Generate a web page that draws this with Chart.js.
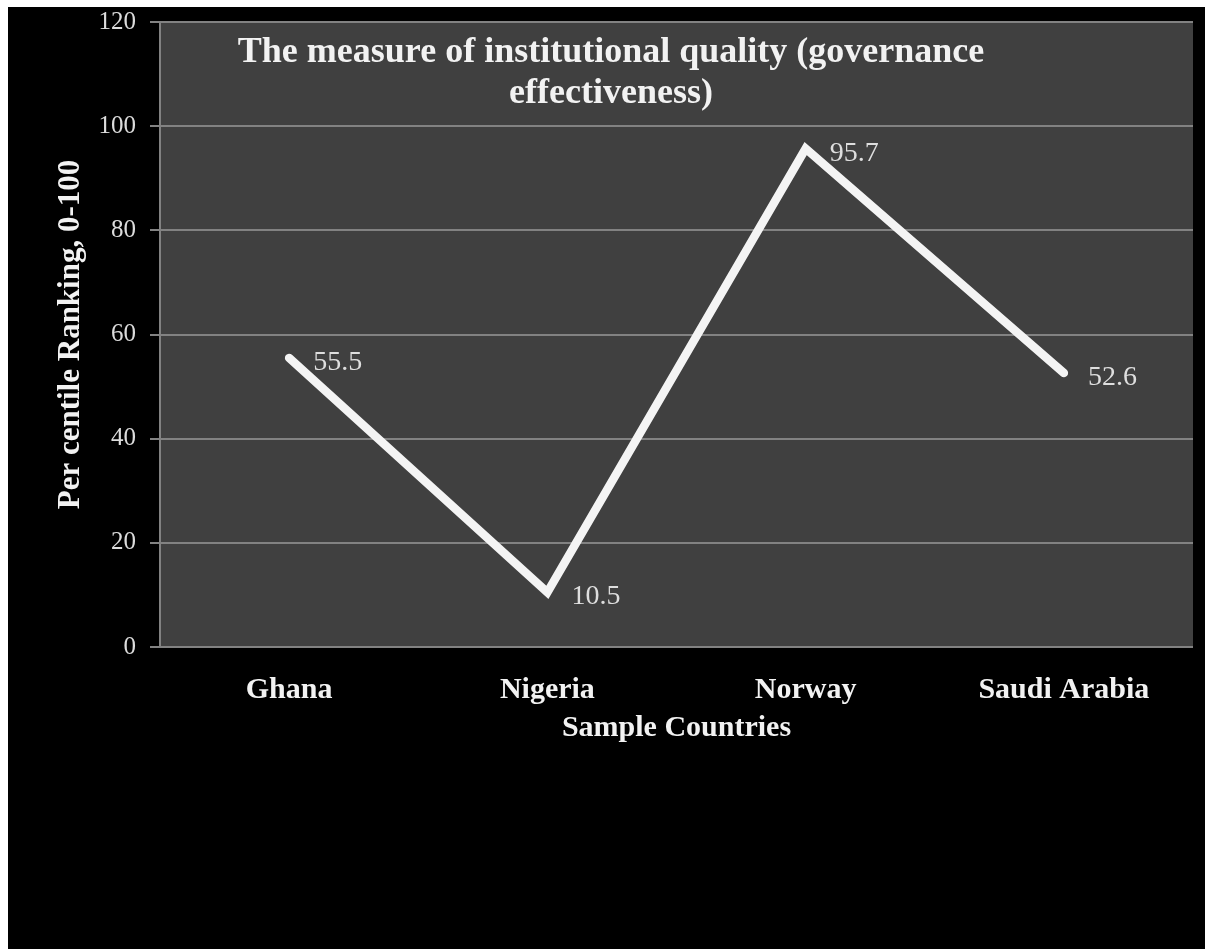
<!DOCTYPE html>
<html>
<head>
<meta charset="utf-8">
<title>Governance effectiveness</title>
<script src="https://cdn.jsdelivr.net/npm/chart.js@4.4.1/dist/chart.umd.min.js"></script>
<style>
  html, body { margin: 0; padding: 0; background: #ffffff; }
  #frame { position: absolute; left: 8px; top: 7px; width: 1197px; height: 942px; background: #000000; }
  #chart { display: block; }
</style>
</head>
<body>
<div id="frame"><canvas id="chart" width="1197" height="942"></canvas></div>
<script>
// Sample countries and their governance-effectiveness percentile rank
const countries = ['Ghana', 'Nigeria', 'Norway', 'Saudi Arabia'];
const governance = [55.5, 10.5, 95.7, 52.6];

// Value axis range
const yMin = 0;
const yMax = 120;
const yStep = 20;

const titleLines = ['The measure of institutional quality (governance', 'effectiveness)'];
const xAxisTitle = 'Sample Countries';
const yAxisTitle = 'Per centile Ranking, 0-100';

const SERIF = "'Liberation Serif', 'Times New Roman', serif";

// Dark plot background behind the grid
const plotBackground = {
  id: 'plotBackground',
  beforeDraw(chart) {
    const { ctx, chartArea: a } = chart;
    ctx.save();
    ctx.fillStyle = '#000000';
    ctx.fillRect(0, 0, chart.width, chart.height);
    ctx.fillStyle = '#404040';
    ctx.fillRect(a.left, a.top, a.right - a.left, a.bottom - a.top);
    ctx.restore();
  }
};

// Two-line heading drawn inside the plot area
const innerTitle = {
  id: 'innerTitle',
  afterDatasetsDraw(chart) {
    const { ctx, chartArea: a } = chart;
    ctx.save();
    ctx.font = 'bold 36px ' + SERIF;
    ctx.fillStyle = '#f2f2f2';
    ctx.textAlign = 'center';
    ctx.textBaseline = 'alphabetic';
    const cx = a.left + 451;
    titleLines.forEach((line, i) => ctx.fillText(line, cx, a.top + 40 + i * 41));
    ctx.restore();
  }
};

// Value labels to the right of each point
const valueLabels = {
  id: 'valueLabels',
  afterDatasetsDraw(chart) {
    const { ctx } = chart;
    const meta = chart.getDatasetMeta(0);
    ctx.save();
    ctx.font = '28px ' + SERIF;
    ctx.fillStyle = '#dedede';
    ctx.textAlign = 'left';
    ctx.textBaseline = 'alphabetic';
    meta.data.forEach((pt, i) => {
      ctx.fillText(governance[i].toFixed(1), pt.x + 24, pt.y + 12);
    });
    ctx.restore();
  }
};

new Chart(document.getElementById('chart'), {
  type: 'line',
  data: {
    labels: countries,
    datasets: [{
      data: governance,
      borderColor: '#f4f4f4',
      borderWidth: 8.5,
      borderCapStyle: 'round',
      borderJoinStyle: 'miter',
      pointRadius: 0,
      pointHoverRadius: 0,
      tension: 0,
      fill: false,
      clip: false
    }]
  },
  options: {
    responsive: false,
    animation: false,
    events: [],
    layout: { padding: { top: 15, right: 12, left: 0, bottom: 0 } },
    plugins: {
      legend: { display: false },
      tooltip: { enabled: false },
      title: { display: false }
    },
    scales: {
      x: {
        type: 'category',
        offset: true,
        grid: { display: false, drawTicks: false },
        border: { display: false },
        ticks: {
          color: '#f2f2f2',
          padding: 25,
          maxRotation: 0,
          font: { family: SERIF, size: 30, weight: 'bold' }
        },
        title: {
          display: true,
          text: xAxisTitle,
          color: '#f2f2f2',
          padding: { top: 0, bottom: 203 },
          font: { family: SERIF, size: 30, weight: 'bold' }
        },
        afterFit(scale) {
          scale.height = 302;
          scale.paddingLeft = 0;
          scale.paddingRight = 0;
        }
      },
      y: {
        min: yMin,
        max: yMax,
        ticks: {
          stepSize: yStep,
          color: '#dcdcdc',
          padding: 14,
          font: { family: SERIF, size: 25 }
        },
        grid: {
          color: '#828282',
          lineWidth: 2,
          tickLength: 10,
          drawTicks: true
        },
        border: { display: true, color: '#828282', width: 2 },
        title: {
          display: true,
          text: yAxisTitle,
          color: '#f2f2f2',
          padding: { top: 44, bottom: 0 },
          font: { family: SERIF, size: 31, weight: 'bold' }
        },
        afterFit(scale) {
          scale.width = 152;
          scale.paddingTop = 0;
          scale.paddingBottom = 0;
        }
      }
    }
  },
  plugins: [plotBackground, innerTitle, valueLabels]
});
</script>
</body>
</html>
